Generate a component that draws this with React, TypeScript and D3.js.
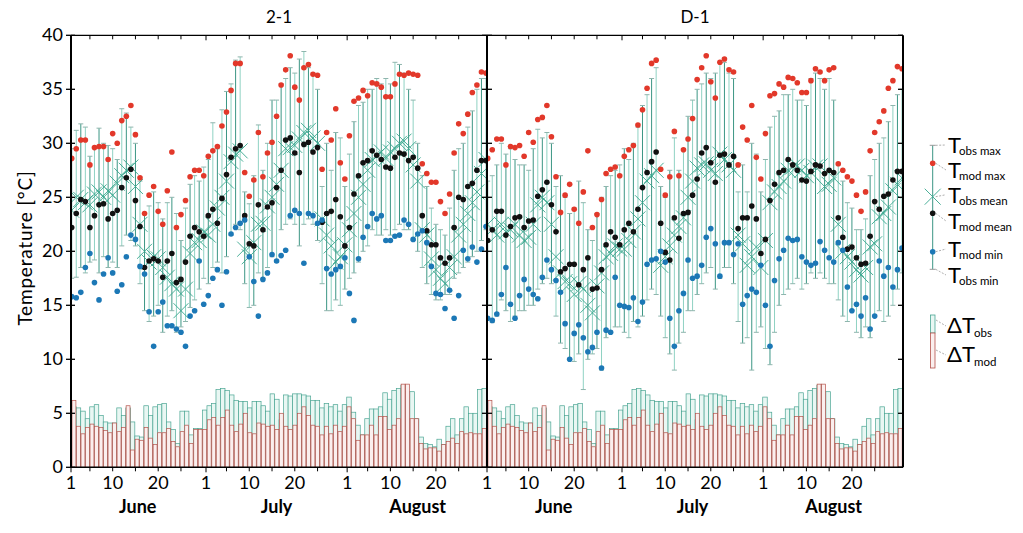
import React from "react";
import * as d3 from "d3";

// ---------- categories / ticks ----------
const dayCount = 92;
const panelNames = ["2-1", "D-1"];
const yTickValues = [0, 5, 10, 15, 20, 25, 30, 35, 40];
const monthNames = ["June", "July", "August"];
const monthStartIdx = [0, 30, 61];
const monthMidIdx = [14.5, 45, 76];
const dayLabels = ["1", "10", "20"];
const dayLabelOffsets = [0, 9, 19];
const minorTickDays = [5, 10, 15, 20, 25];

// ---------- panel 2-1 ----------
const leftModMax = [28.6,29.5,30.3,30.3,28.0,29.6,29.7,29.7,28.5,30.9,30.0,32.1,32.5,33.5,30.8,26.8,23.5,25.2,26.0,23.7,22.5,25.6,29.2,22.2,23.4,24.7,26.9,27.5,27.5,27.0,28.8,29.3,29.7,31.6,32.9,34.9,37.4,37.4,27.3,25.1,26.6,31.0,26.9,29.1,30.1,32.5,35.4,36.8,38.1,35.2,34.0,37.0,37.3,36.4,36.3,27.6,31.0,30.3,33.2,28.2,26.7,30.7,33.9,34.2,34.9,34.4,35.6,35.5,35.2,34.3,34.3,35.5,36.4,36.3,36.5,36.4,36.3,28.1,27.2,26.4,26.4,24.6,23.5,25.3,29.1,31.8,30.9,32.7,34.7,35.4,36.6,36.5];
const leftModMean = [22.2,23.5,24.8,24.6,22.2,23.3,24.3,24.4,23.0,23.5,23.8,25.9,26.8,27.6,24.7,22.3,18.5,19.1,19.3,19.1,17.6,19.1,19.8,17.1,17.4,19.0,21.4,22.2,21.8,21.4,23.3,23.9,22.6,24.9,27.1,28.7,29.5,29.8,23.3,20.7,20.5,24.3,22.0,24.1,24.5,25.9,27.5,30.3,30.5,29.1,27.3,29.9,30.1,29.2,29.6,22.7,23.5,23.7,24.8,23.2,20.5,22.2,25.3,27.0,28.2,28.4,29.3,28.9,28.5,27.8,27.7,28.7,29.1,29.0,28.4,28.7,27.7,23.3,21.9,20.6,20.6,19.4,18.9,19.4,22.2,25.0,24.8,26.0,26.3,27.5,28.4,28.4];
const leftModMin = [15.8,15.7,16.2,18.5,19.8,17.1,15.5,17.9,19.4,18.0,16.3,16.9,19.5,21.5,21.1,18.6,17.9,14.4,11.2,14.4,15.3,13.1,13.1,12.8,12.5,11.2,14.0,14.5,19.1,15.1,15.9,17.5,18.3,15.0,18.1,21.6,22.2,22.6,22.9,19.5,17.2,14.0,17.4,18.0,19.7,19.1,19.6,20.1,23.3,23.8,23.5,18.9,23.5,23.3,22.6,22.9,18.4,17.9,18.3,18.6,19.4,16.1,13.6,19.3,21.3,22.3,23.5,23.0,23.3,21.0,21.0,21.4,21.5,22.9,22.5,21.1,21.6,21.9,20.8,18.6,16.1,16.0,14.7,16.4,13.8,15.9,20.1,19.3,20.4,19.0,20.2,22.3];
const leftObsMax = [29.5,31.2,31.8,31.5,28.8,29.5,31.4,30.0,29.8,29.5,28.5,33.2,32.8,31.5,30.0,26.5,23.5,24.2,25.5,24.5,23.0,24.5,25.0,23.5,21.0,24.0,26.2,27.0,26.5,27.8,28.5,31.9,29.5,33.1,34.8,35.5,37.7,38.0,25.5,24.4,27.0,31.7,27.5,30.0,34.0,34.0,35.5,36.0,37.0,36.5,37.8,38.5,37.0,36.5,35.0,26.0,30.0,27.5,31.0,30.5,26.0,29.0,32.0,33.5,33.8,35.0,35.0,36.0,35.5,36.0,35.5,37.5,37.3,36.5,35.0,34.0,30.0,27.0,26.0,24.0,22.5,22.0,21.5,24.0,27.5,29.5,30.0,31.5,33.0,35.0,36.0,36.0];
const leftObsMean = [23.8,25.0,24.8,24.5,24.3,25.3,25.5,25.0,25.6,25.2,26.3,27.0,27.5,27.8,26.0,22.5,20.0,19.0,19.5,19.3,18.5,17.6,17.0,16.5,14.5,16.5,19.8,20.8,21.0,21.8,21.5,22.5,24.0,25.0,26.5,28.3,29.0,29.3,20.2,19.5,20.8,22.5,22.6,24.2,25.0,26.2,27.5,29.5,29.6,29.8,30.4,31.0,31.2,30.5,30.0,23.0,21.5,20.5,19.0,19.5,20.6,22.0,23.5,25.0,26.2,27.5,28.5,28.8,29.2,28.6,29.2,29.5,30.0,30.2,29.5,28.0,26.5,22.0,21.5,19.3,18.3,17.5,17.0,18.5,19.5,21.5,22.5,23.5,24.5,25.5,27.2,28.5];
const leftObsMin = [17.5,17.6,18.5,18.0,19.0,19.2,18.0,19.5,18.5,19.0,18.5,20.5,21.5,21.0,20.5,17.0,14.5,13.5,14.0,15.0,12.5,14.0,14.5,12.5,13.0,13.5,14.8,15.5,16.5,17.5,17.0,18.5,19.0,18.0,19.5,21.5,22.5,22.0,17.0,14.8,15.0,18.0,17.5,18.5,19.5,19.0,22.0,22.5,23.0,22.5,20.5,22.5,23.0,22.5,21.0,17.0,14.5,14.5,15.5,15.0,16.5,17.5,18.0,19.0,20.0,20.5,22.0,21.5,21.5,22.0,21.5,22.0,22.5,22.0,22.0,21.0,20.0,18.5,17.0,16.0,15.5,15.5,16.0,16.0,17.5,18.0,18.5,19.0,19.5,20.0,21.0,22.0];

// ---------- panel D-1 ----------
const rightModMax = [28.6,29.4,30.4,30.4,28.0,29.7,29.6,29.8,28.8,31.0,30.1,32.2,32.4,33.5,30.6,26.9,23.6,25.2,26.2,23.9,22.6,25.5,29.3,22.2,23.4,24.8,27.2,27.6,27.8,27.0,28.8,29.4,29.8,31.7,33.1,35.1,37.4,37.7,27.6,25.2,26.9,31.1,27.0,29.4,30.4,32.3,35.9,37.0,38.1,35.7,34.2,37.5,37.8,36.8,36.6,28.0,31.5,30.3,33.5,28.7,26.7,30.9,34.4,34.6,35.5,35.2,36.1,36.0,35.6,34.7,34.7,35.8,36.9,36.6,35.8,36.8,37.0,28.1,27.5,26.9,26.5,25.2,23.7,25.5,29.3,31.0,32.0,33.0,35.1,35.8,37.1,36.9];
const rightModMean = [21.0,22.0,23.7,23.7,21.5,22.3,23.1,23.2,22.2,22.8,22.9,25.1,25.7,26.4,24.3,21.8,18.1,18.4,18.8,18.8,16.9,18.3,19.4,16.5,16.6,18.3,20.6,21.8,21.3,20.6,22.0,22.6,21.8,23.9,25.9,27.3,28.3,29.2,22.6,19.9,19.2,23.1,21.2,23.5,23.6,25.2,26.7,29.1,29.6,28.2,26.4,28.9,29.0,28.0,28.8,22.1,23.1,23.1,24.2,23.0,19.8,21.1,24.7,26.2,27.3,27.5,28.5,28.0,27.5,26.6,26.5,27.4,28.0,27.9,27.2,27.5,27.3,23.1,21.3,20.2,20.4,19.4,18.8,18.9,21.4,24.6,23.9,25.1,25.3,26.6,27.4,27.4];
const rightModMin = [13.8,13.6,14.2,16.0,18.5,15.1,13.8,15.9,17.4,16.5,16.0,15.6,17.6,19.2,18.3,17.3,16.2,13.3,10.0,12.4,13.2,12.0,10.7,11.1,12.5,9.2,12.7,12.5,17.6,15.0,14.9,14.8,15.7,13.5,15.3,18.8,19.2,19.3,20.0,19.0,13.8,11.2,14.5,16.1,19.2,17.5,17.7,18.7,21.3,22.1,20.7,17.7,20.8,20.8,19.7,20.7,15.1,15.9,16.5,16.2,18.7,15.0,11.2,17.3,19.3,20.1,21.2,21.0,21.1,19.5,19.0,18.7,18.9,20.9,20.1,19.4,19.0,20.8,20.1,16.7,14.5,15.1,14.0,15.7,12.8,14.0,19.1,17.7,18.5,16.7,18.3,20.3];
const rightObsMax = [26.5,27.0,28.0,30.0,29.0,29.5,28.5,28.0,28.0,27.5,29.5,31.3,30.5,31.0,30.0,26.0,27.0,25.0,23.5,24.0,26.5,24.5,22.0,21.0,23.5,25.0,26.0,27.0,27.5,28.0,29.5,28.5,30.0,31.5,33.5,34.5,36.0,37.0,26.0,25.0,27.5,30.5,27.5,29.5,32.5,34.0,35.0,35.5,36.5,36.0,36.5,37.5,37.5,36.5,36.0,25.5,28.0,25.5,30.0,29.0,25.5,28.5,31.5,32.5,33.0,34.5,34.5,35.0,34.0,34.0,33.5,36.0,36.5,36.0,35.0,36.0,34.0,28.0,26.5,24.5,24.0,22.0,22.0,23.0,27.0,28.5,30.0,30.5,32.0,33.5,34.5,35.0];
const rightObsMean = [22.5,22.0,21.5,22.5,21.8,22.0,22.5,21.5,21.0,21.3,22.5,24.3,25.0,24.5,22.5,19.5,18.0,17.2,17.0,16.0,17.0,16.5,15.0,14.3,16.8,18.0,19.5,19.8,20.5,20.2,20.2,21.0,21.8,23.0,24.5,26.5,27.0,27.5,18.7,19.5,20.5,21.5,22.3,23.1,25.0,26.5,27.7,28.0,28.1,27.5,27.2,29.0,28.5,28.0,27.5,21.5,20.7,18.7,19.5,20.4,18.5,21.0,24.5,25.5,26.0,26.5,27.5,27.8,27.9,27.5,27.0,27.3,27.8,27.9,26.0,26.2,26.8,22.5,20.0,19.5,19.0,18.3,17.8,18.5,20.4,20.7,23.2,23.5,24.1,25.6,26.2,26.8];
const rightObsMin = [15.0,13.4,14.0,15.5,14.5,13.5,14.0,14.5,14.5,15.0,15.0,16.5,17.0,17.5,17.0,14.0,11.5,11.0,10.0,9.8,10.5,7.2,10.0,10.5,11.0,9.0,12.0,12.5,13.0,13.0,12.5,12.0,13.5,13.0,14.0,15.5,16.5,16.0,14.0,12.0,10.5,9.0,11.5,12.5,14.5,14.5,16.0,17.0,18.0,18.5,16.5,17.5,18.5,18.5,17.0,13.5,11.5,12.0,9.0,12.5,13.0,11.0,9.5,12.5,15.0,16.0,16.5,17.0,17.5,16.5,17.0,18.0,17.5,18.0,17.5,17.0,17.0,15.5,14.0,13.5,14.5,12.5,12.0,13.0,12.0,14.0,14.5,13.5,14.0,15.0,16.5,18.0];

// ---------- daily ranges (same in both panels) ----------
const dTObs = [5.6,5.5,5.2,4.5,5.6,5.8,4.8,4.2,4.1,4.1,5.5,4.8,5.5,4.2,2.9,2.8,5.7,4.8,5.6,5.8,5.9,4.2,3.5,2.2,5.2,5.2,3.0,3.6,3.6,5.3,5.7,5.9,7.2,7.3,7.1,6.7,6.2,6.1,6.1,5.5,6.1,6.1,5.7,5.2,6.8,6.3,4.4,6.7,6.6,6.8,6.8,6.7,6.6,6.2,6.2,5.5,5.9,5.6,5.8,5.2,5.8,6.5,5.1,3.9,3.0,4.5,5.4,5.4,5.6,6.9,6.3,7.1,7.3,7.6,7.0,7.0,4.5,2.8,2.2,2.1,1.9,2.6,2.1,3.8,4.5,3.0,4.5,5.6,5.0,5.0,7.2,7.3];
const dTMod = [6.2,3.8,3.1,3.7,4.0,3.8,3.7,3.4,3.2,4.1,3.3,3.7,5.7,1.6,2.6,2.5,3.7,2.7,2.1,3.2,3.2,3.6,2.4,1.9,3.3,3.9,2.2,3.5,3.5,3.5,4.4,4.6,3.9,4.6,5.3,3.9,3.3,4.0,5.0,3.2,3.1,4.1,4.0,3.8,3.9,3.5,5.0,3.8,3.5,3.9,5.0,5.6,4.8,3.9,3.8,3.0,3.8,3.1,3.9,3.3,3.8,5.6,4.5,2.5,3.0,3.0,3.9,3.0,4.7,4.7,3.5,3.9,4.5,7.7,7.7,4.5,4.5,2.2,1.7,1.8,1.8,1.5,2.1,2.4,2.7,2.2,3.3,3.1,3.2,3.1,3.1,3.6];

const panelsData = [
  { name: panelNames[0], modMax: leftModMax, modMean: leftModMean, modMin: leftModMin, obsMax: leftObsMax, obsMean: leftObsMean, obsMin: leftObsMin },
  { name: panelNames[1], modMax: rightModMax, modMean: rightModMean, modMin: rightModMin, obsMax: rightObsMax, obsMean: rightObsMean, obsMin: rightObsMin },
];

const FONT = "Lato, 'Open Sans', 'Liberation Sans', sans-serif";
const C = {
  red: "#e2382a",
  black: "#111111",
  blue: "#1c78b6",
  tealDark: "#3b9684",
  tealLight: "#8fd2c3",
  cross: "#35a68c",
  cap: "#8fb5ad",
  barObsStroke: "#4aa593",
  barObsFill: "#e9f7f3",
  barModStroke: "#b4524a",
  barModFill: "#fbefee",
  lead: "#999999",
};

export default function App() {
  const W = 1023, H = 533;
  const top = 35.3, bottom = 467.3;
  const panelX0 = [71, 487];
  const panelW = 416;
  const y = d3.scaleLinear().domain([0, 40]).range([bottom, top]);

  const panels = panelsData.map((pd, p) => {
    const x0 = panelX0[p];
    const x = d3.scaleLinear().domain([0, 91]).range([x0 + 0.7, x0 + 415]);
    const band = d3.scaleBand<number>().domain(d3.range(dayCount)).range([x0 + 0.7, x0 + 415.5]).padding(0);
    const bw = band.bandwidth();
    const days = d3.range(dayCount);
    const cs = 7.5;
    return (
      <g key={p}>
        <defs>
          <clipPath id={`clip${p}`}>
            <rect x={x0} y={top} width={panelW} height={bottom - top} />
          </clipPath>
        </defs>
        <text x={x0 + panelW / 2} y={23} textAnchor="middle" fontSize={17} fontFamily={FONT}>{pd.name}</text>
        <g clipPath={`url(#clip${p})`}>
          {/* daily range bars */}
          {days.map((d) => (
            <rect key={"bo" + d} x={band(d)} y={y(dTObs[d])} width={bw} height={y(0) - y(dTObs[d])}
              fill={C.barObsFill} stroke={C.barObsStroke} strokeWidth={0.7} />
          ))}
          {days.map((d) => (
            <rect key={"bm" + d} x={band(d)! + 0.3} y={y(dTMod[d])} width={bw - 0.6} height={y(0) - y(dTMod[d])}
              fill={C.barModFill} stroke={C.barModStroke} strokeWidth={0.7} />
          ))}
          {/* obs error bars */}
          {days.map((d) => {
            const col = d % 2 === 0 ? C.tealDark : C.tealLight;
            const xx = x(d);
            return (
              <g key={"eb" + d}>
                <line x1={xx} x2={xx} y1={y(pd.obsMax[d])} y2={y(pd.obsMin[d])} stroke={col} strokeWidth={1} />
                <line x1={xx - 2.5} x2={xx + 2.5} y1={y(pd.obsMax[d])} y2={y(pd.obsMax[d])} stroke={C.cap} strokeWidth={1} />
                <line x1={xx - 2.5} x2={xx + 2.5} y1={y(pd.obsMin[d])} y2={y(pd.obsMin[d])} stroke={C.cap} strokeWidth={1} />
              </g>
            );
          })}
          {/* obs mean crosses */}
          {days.map((d) => {
            const xx = x(d), yy = y(pd.obsMean[d]);
            return (
              <path key={"x" + d} d={`M${xx - cs},${yy - cs}L${xx + cs},${yy + cs}M${xx - cs},${yy + cs}L${xx + cs},${yy - cs}`}
                stroke={C.cross} strokeWidth={0.9} fill="none" />
            );
          })}
          {/* model points */}
          {days.map((d) => <circle key={"mx" + d} cx={x(d)} cy={y(pd.modMax[d])} r={2.8} fill={C.red} />)}
          {days.map((d) => <circle key={"mm" + d} cx={x(d)} cy={y(pd.modMean[d])} r={2.8} fill={C.black} />)}
          {days.map((d) => <circle key={"mn" + d} cx={x(d)} cy={y(pd.modMin[d])} r={2.8} fill={C.blue} />)}
        </g>
        {/* x ticks */}
        {monthStartIdx.map((s, m) => {
          const xs = m === 0 ? x0 : x(s - 0.5);
          return (
            <g key={"mt" + m}>
              <line x1={xs} x2={xs} y1={bottom} y2={bottom + 5} stroke="#000" strokeWidth={1} />
              <line x1={xs} x2={xs} y1={top} y2={top + 5} stroke="#000" strokeWidth={1} />
              {minorTickDays.map((k) => {
                const xm = x(s + k - 1);
                return (
                  <g key={k}>
                    <line x1={xm} x2={xm} y1={bottom} y2={bottom + 4} stroke="#000" strokeWidth={1} />
                    <line x1={xm} x2={xm} y1={top} y2={top + 4} stroke="#000" strokeWidth={1} />
                  </g>
                );
              })}
              {dayLabels.map((lab, i) => {
                const xl = i === 0 ? xs : x(s + dayLabelOffsets[i]);
                return (
                  <text key={lab} x={xl} y={489} textAnchor="middle" fontSize={18} fontFamily={FONT}>{lab}</text>
                );
              })}
              <text x={x(monthMidIdx[m])} y={513} textAnchor="middle" fontSize={18} fontWeight="bold" fontFamily={FONT}>{monthNames[m]}</text>
            </g>
          );
        })}
      </g>
    );
  });

  // legend
  const lx = 932.7;
  const legendItems = [
    { key: "obs max", yMark: 145.3, yText: 153 },
    { key: "mod max", yMark: 163.3, yText: 178 },
    { key: "obs mean", yMark: 196.7, yText: 202.7 },
    { key: "mod mean", yMark: 213.3, yText: 229 },
    { key: "mod min", yMark: 251.7, yText: 257 },
    { key: "obs min", yMark: 269.3, yText: 283 },
  ];

  return (
    <svg width={W} height={H} style={{ position: "absolute", left: 0, top: 0, background: "#fff" }}>
      <rect x={0} y={0} width={W} height={H} fill="#fff" />
      {panels}
      {/* frame */}
      <line x1={71} x2={903} y1={top} y2={top} stroke="#000" strokeWidth={1.3} />
      <line x1={71} x2={903} y1={bottom} y2={bottom} stroke="#000" strokeWidth={1.5} />
      <line x1={71} x2={71} y1={top} y2={bottom} stroke="#000" strokeWidth={2} />
      <line x1={487} x2={487} y1={top} y2={bottom} stroke="#000" strokeWidth={2} />
      <line x1={903} x2={903} y1={top} y2={bottom} stroke="#000" strokeWidth={2} />
      {yTickValues.map((v) => (
        <g key={v}>
          <line x1={66} x2={75} y1={y(v)} y2={y(v)} stroke="#000" strokeWidth={1.3} />
          <line x1={482} x2={492} y1={y(v)} y2={y(v)} stroke="#000" strokeWidth={1.3} />
          <line x1={898} x2={903} y1={y(v)} y2={y(v)} stroke="#000" strokeWidth={1.3} />
          <text x={63} y={y(v) + 6} textAnchor="end" fontSize={18} fontFamily={FONT}>{v}</text>
        </g>
      ))}
      <text transform={`translate(32,${248}) rotate(-90)`} textAnchor="middle" fontSize={19} letterSpacing={0.8} fontFamily={FONT}>Temperature [°C]</text>

      {/* legend */}
      <line x1={lx} x2={lx} y1={145.3} y2={269.3} stroke={C.tealDark} strokeWidth={1} />
      <line x1={lx - 3} x2={lx + 3} y1={145.3} y2={145.3} stroke={C.lead} strokeWidth={1} />
      <line x1={lx - 3} x2={lx + 3} y1={269.3} y2={269.3} stroke={C.lead} strokeWidth={1} />
      <circle cx={lx} cy={163.3} r={2.8} fill={C.red} />
      <path d={`M${lx - 8},${196.7 - 8}L${lx + 8},${196.7 + 8}M${lx - 8},${196.7 + 8}L${lx + 8},${196.7 - 8}`} stroke={C.cross} strokeWidth={0.9} fill="none" />
      <circle cx={lx} cy={213.3} r={2.8} fill={C.black} />
      <circle cx={lx} cy={251.7} r={2.8} fill={C.blue} />
      {legendItems.map((it) => (
        <g key={it.key}>
          <line x1={lx + 3} y1={it.yMark} x2={946} y2={it.yText - 8} stroke={C.lead} strokeWidth={0.8} strokeDasharray="2,1.5" />
          <text x={948} y={it.yText} fontSize={22} fontFamily={FONT}>T</text>
          <text x={959} y={it.yText + 2} fontSize={11.5} fontFamily={FONT}>{it.key}</text>
        </g>
      ))}
      <rect x={930.5} y={315} width={4.5} height={18} fill={C.barObsFill} stroke={C.barObsStroke} strokeWidth={0.8} />
      <rect x={930.5} y={333} width={4.5} height={35} fill={C.barModFill} stroke={C.barModStroke} strokeWidth={0.8} />
      <line x1={936} y1={320} x2={946} y2={326} stroke={C.lead} strokeWidth={0.8} strokeDasharray="2,1.5" />
      <line x1={936} y1={350} x2={946} y2={355} stroke={C.lead} strokeWidth={0.8} strokeDasharray="2,1.5" />
      <text x={947} y={333} fontSize={22} fontFamily={FONT}>ΔT</text>
      <text x={974} y={337} fontSize={11.5} fontFamily={FONT}>obs</text>
      <text x={947} y={362} fontSize={22} fontFamily={FONT}>ΔT</text>
      <text x={974} y={366} fontSize={11.5} fontFamily={FONT}>mod</text>
    </svg>
  );
}
